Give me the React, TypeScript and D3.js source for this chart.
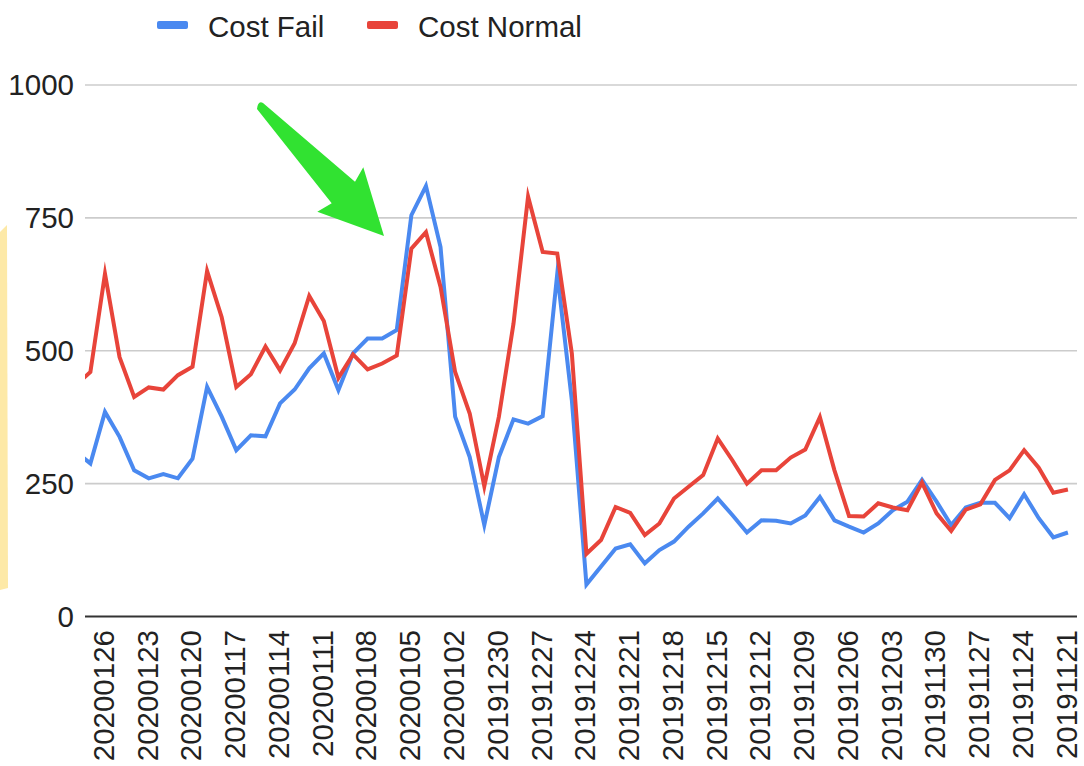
import { useRef, useEffect } from 'react';
import * as d3 from 'd3';

const WIDTH = 1084;
const HEIGHT = 766;
const FONT = '"Liberation Sans", Arial, sans-serif';
const FAIL_COLOR = '#4a89f0';
const NORMAL_COLOR = '#e8443a';
const GRID_COLOR = '#cccccc';

// days, newest first (first two sit just off the left edge of the plot)
const dates = [
  '20200128', '20200127', '20200126', '20200125', '20200124', '20200123', '20200122', '20200121',
  '20200120', '20200119', '20200118', '20200117', '20200116', '20200115', '20200114', '20200113',
  '20200112', '20200111', '20200110', '20200109', '20200108', '20200107', '20200106', '20200105',
  '20200104', '20200103', '20200102', '20200101', '20191231', '20191230', '20191229', '20191228',
  '20191227', '20191226', '20191225', '20191224', '20191223', '20191222', '20191221', '20191220',
  '20191219', '20191218', '20191217', '20191216', '20191215', '20191214', '20191213', '20191212',
  '20191211', '20191210', '20191209', '20191208', '20191207', '20191206', '20191205', '20191204',
  '20191203', '20191202', '20191201', '20191130', '20191129', '20191128', '20191127', '20191126',
  '20191125', '20191124', '20191123', '20191122', '20191121',
];

const costFail = [
  310, 288, 385, 338, 275, 260, 268, 260, 297, 432, 376, 313, 341, 339, 401, 427,
  467, 495, 426, 495, 523, 523, 539, 755, 810, 695, 376, 300, 172, 300, 371, 363,
  377, 645, 407, 60, 94, 128, 136, 100, 125, 141, 169, 194, 222, 191, 158, 181,
  180, 175, 190, 225, 181, 169, 158, 175, 200, 216, 257, 216, 172, 205, 214, 214,
  185, 230, 185, 149, 158,
];

const costNormal = [
  435, 460, 645, 488, 413, 431, 427, 454, 470, 650, 563, 432, 456, 508, 463, 514,
  603, 556, 449, 493, 465, 476, 491, 692, 723, 620, 460, 382, 245, 376, 551, 790,
  686, 683, 495, 118, 144, 206, 195, 153, 175, 222, 244, 266, 335, 294, 250, 275,
  275, 299, 314, 375, 275, 189, 188, 213, 205, 200, 252, 194, 161, 201, 211, 257,
  275, 313, 280, 233, 239,
];

const tickLabels = [
  '20200126', '20200123', '20200120', '20200117', '20200114', '20200111', '20200108',
  '20200105', '20200102', '20191230', '20191227', '20191224', '20191221', '20191218',
  '20191215', '20191212', '20191209', '20191206', '20191203', '20191130', '20191127',
  '20191124', '20191121',
];

const yTicks = [0, 250, 500, 750, 1000];

const series = [
  { name: 'Cost Fail', values: costFail, color: FAIL_COLOR },
  { name: 'Cost Normal', values: costNormal, color: NORMAL_COLOR },
];

const plot = { left: 85, right: 1077, top: 85, bottom: 616.5 };

const CostChart = () => {
  const svgRef = useRef(null);

  useEffect(() => {
    const svg = d3.select(svgRef.current);
    svg.selectAll('*').remove();

    const x = d3.scalePoint().domain(dates).range([75.8, 1067.9]);
    const y = d3.scaleLinear().domain([0, 1000]).range([plot.bottom, plot.top]);

    svg.append('rect').attr('width', WIDTH).attr('height', HEIGHT).attr('fill', 'white');

    // pale yellow strip on the left edge
    svg
      .append('path')
      .attr('d', 'M0,232 L7,225 L8,588 L0,590 Z')
      .attr('fill', '#fde9a7');

    // gridlines
    svg
      .append('g')
      .selectAll('line')
      .data(yTicks.filter((t) => t > 0))
      .join('line')
      .attr('x1', plot.left)
      .attr('x2', plot.right)
      .attr('y1', (d) => y(d))
      .attr('y2', (d) => y(d))
      .attr('stroke', GRID_COLOR)
      .attr('stroke-width', 1.6);

    // y labels
    svg
      .append('g')
      .selectAll('text')
      .data(yTicks)
      .join('text')
      .attr('x', 74)
      .attr('y', (d) => y(d))
      .attr('dy', '0.35em')
      .attr('text-anchor', 'end')
      .attr('font-family', FONT)
      .attr('font-size', 29.5)
      .attr('fill', '#222')
      .text((d) => d);

    // lines, clipped to the plot area
    svg
      .append('clipPath')
      .attr('id', 'plot-clip')
      .append('rect')
      .attr('x', plot.left)
      .attr('y', 0)
      .attr('width', plot.right - plot.left)
      .attr('height', HEIGHT);

    const line = d3
      .line()
      .x((d, i) => x(dates[i]))
      .y((d) => y(d));

    svg
      .append('g')
      .attr('clip-path', 'url(#plot-clip)')
      .selectAll('path')
      .data(series)
      .join('path')
      .attr('d', (s) => line(s.values))
      .attr('fill', 'none')
      .attr('stroke', (s) => s.color)
      .attr('stroke-width', 4)
      .attr('stroke-linejoin', 'miter')
      .attr('stroke-miterlimit', 10);

    // baseline
    svg
      .append('line')
      .attr('x1', plot.left)
      .attr('x2', plot.right)
      .attr('y1', y(0))
      .attr('y2', y(0))
      .attr('stroke', '#333')
      .attr('stroke-width', 2);

    // x labels (rotated)
    svg
      .append('g')
      .selectAll('text')
      .data(tickLabels)
      .join('text')
      .attr('transform', (d) => `translate(${x(d)},630) rotate(-90)`)
      .attr('dy', '0.3em')
      .attr('text-anchor', 'end')
      .attr('font-family', FONT)
      .attr('font-size', 29.5)
      .attr('fill', '#222')
      .text((d) => d);

    // legend
    const legend = svg.append('g');
    const legendX = [157, 367];
    series.forEach((s, i) => {
      legend
        .append('rect')
        .attr('x', legendX[i])
        .attr('y', 21)
        .attr('width', 31)
        .attr('height', 8)
        .attr('rx', 2)
        .attr('fill', s.color);
      legend
        .append('text')
        .attr('x', legendX[i] + 51)
        .attr('y', 37)
        .attr('font-family', FONT)
        .attr('font-size', 29.5)
        .attr('fill', '#222')
        .text(s.name);
    });

    // green annotation arrow
    svg
      .append('path')
      .attr(
        'd',
        'M257,109 L331.7,203.3 L317.3,211.7 L384,236 L363.3,167.3 L355,181.7 L263,103 Q258,100 257,109 Z'
      )
      .attr('fill', '#31e231');
  }, []);

  return (
    <svg
      ref={svgRef}
      width={WIDTH}
      height={HEIGHT}
      style={{ position: 'absolute', left: 0, top: 0 }}
    />
  );
};

export default function App() {
  return <CostChart />;
}
